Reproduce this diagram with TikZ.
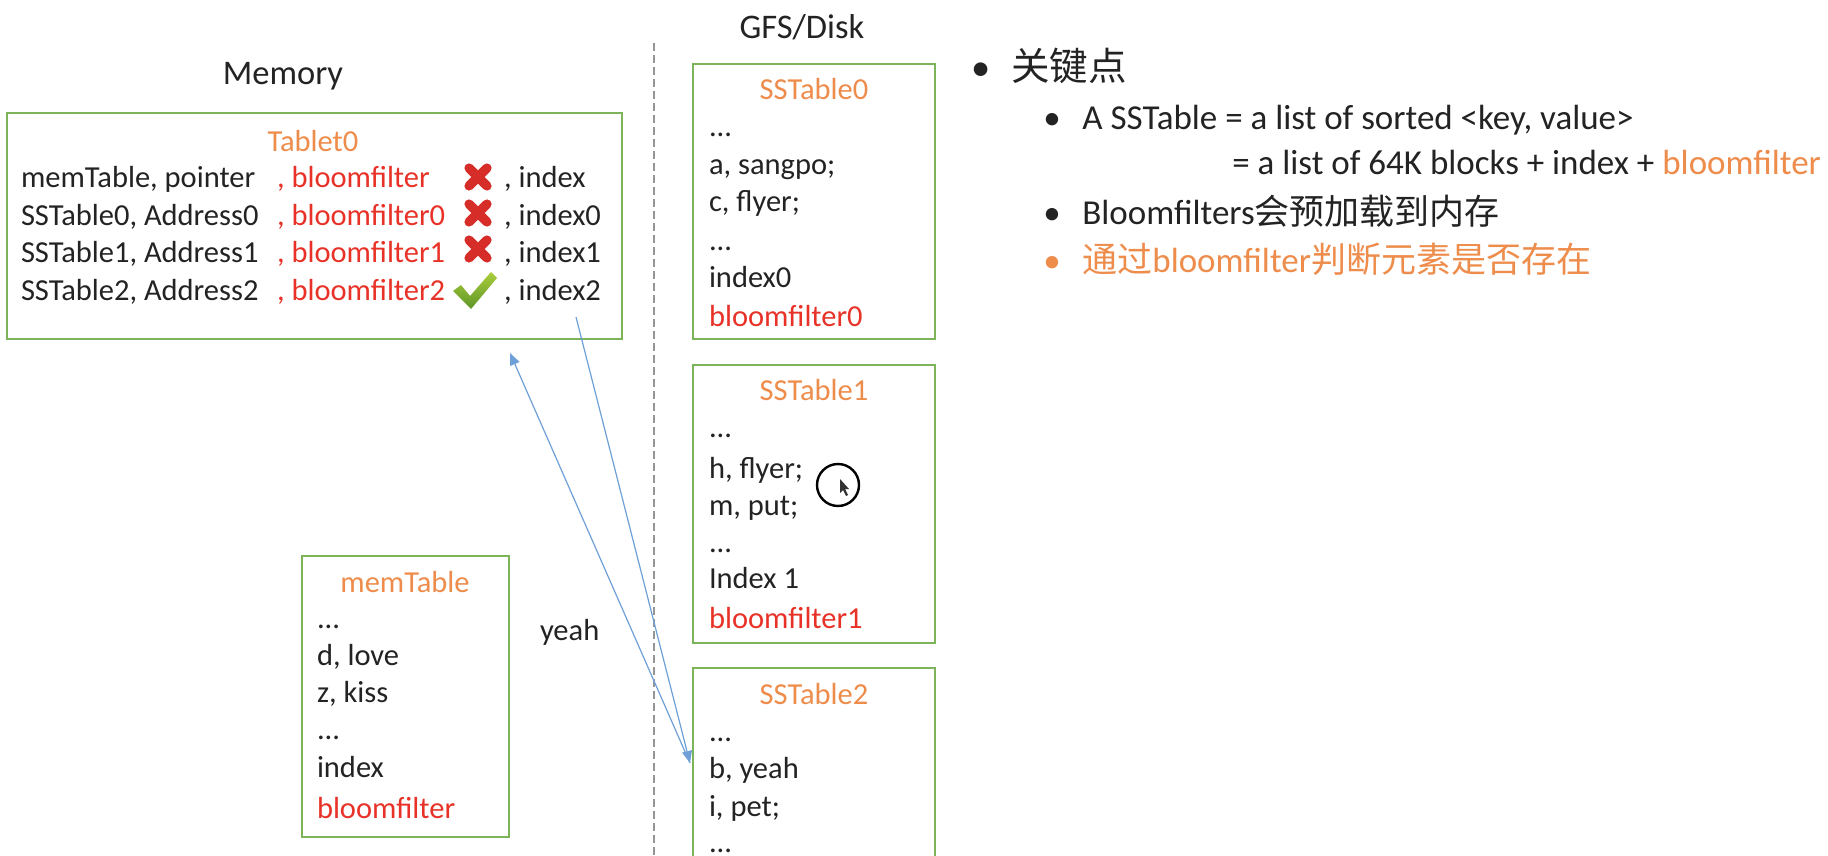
\documentclass[tikz,border=0pt]{standalone}
\usepackage{fontspec}
\setmainfont{Carlito}
\newfontfamily\cjk{Noto Sans CJK SC}
\usetikzlibrary{arrows.meta}
\definecolor{boxgreen}{RGB}{125,180,90}
\definecolor{ttlorange}{RGB}{238,140,75}
\definecolor{bfred}{RGB}{232,50,40}
\definecolor{txt}{RGB}{35,35,35}
\definecolor{arrblue}{RGB}{110,160,215}
\definecolor{dashgray}{RGB}{150,150,150}
\definecolor{xred}{RGB}{215,45,40}
\definecolor{ckgreentop}{RGB}{170,205,60}
\definecolor{ckgreenbot}{RGB}{95,150,40}
\tikzset{
  frame/.style={draw=boxgreen, line width=1pt, anchor=north west, inner sep=0pt, outer sep=0pt},
  lbl/.style={anchor=base west, inner sep=0pt, outer sep=0pt, text=txt, font=\fontsize{15.25pt}{18pt}\selectfont},
  ttl/.style={anchor=base, inner sep=0pt, outer sep=0pt, text=ttlorange, font=\fontsize{15.25pt}{18pt}\selectfont},
  bf/.style={lbl, text=bfred},
  head/.style={anchor=base, inner sep=0pt, text=txt, font=\fontsize{17.25pt}{20pt}\selectfont},
  bul/.style={anchor=base west, inner sep=0pt, text=txt, font=\fontsize{17.5pt}{21pt}\selectfont},
  bdot/.style={anchor=base, inner sep=0pt, text=txt, font=\fontsize{17.5pt}{21pt}\selectfont},
  arr/.style={draw=arrblue, line width=0.6pt, -{Triangle[length=6pt,width=5pt]}},
  xmark/.style={draw=xred, line width=4.6pt, line cap=round},
}
\begin{document}
\begin{tikzpicture}[x=0.5pt,y=-0.5pt]
\useasboundingbox (0,0) rectangle (1828,856);
\clip (0,0) rectangle (1828,856);
\fill[white] (0,0) rectangle (1828,856);

% headings
\node[head] (hmem) at (283,85) {Memory};
\node[head] (hgfs) at (802,39) {GFS/Disk};

% divider
\coordinate (dtop) at (654,43);
\coordinate (dbot) at (654,860);
\draw[dashgray, line width=1pt, dash pattern=on 4pt off 2pt] (dtop) -- (dbot);

% Tablet0 box
\node[frame, minimum width=307.5pt, minimum height=113pt] (tab) at (7,113) {};
\node[ttl] (tabt) at (313,152) {Tablet0};
\node[lbl] (r1a) at (21,188) {memTable, pointer};
\node[lbl] (r2a) at (21,225.5) {SSTable0, Address0};
\node[lbl] (r3a) at (21,263) {SSTable1, Address1};
\node[lbl] (r4a) at (21,300.5) {SSTable2, Address2};
\node[bf] (r1b) at (277,188) {, bloomfilter};
\node[bf] (r2b) at (277,225.5) {, bloomfilter0};
\node[bf] (r3b) at (277,263) {, bloomfilter1};
\node[bf] (r4b) at (277,300.5) {, bloomfilter2};
\node[lbl] (r1c) at (504,188) {, index};
\node[lbl] (r2c) at (504,225.5) {, index0};
\node[lbl] (r3c) at (504,263) {, index1};
\node[lbl] (r4c) at (504,300.5) {, index2};
% cross marks
\foreach \yy in {177,213,249} {
  \draw[xmark] (469,\yy-9) -- (487,\yy+9);
  \draw[xmark] (469,\yy+9) -- (487,\yy-9);
}
% check mark
\shade[top color=ckgreentop, bottom color=ckgreenbot] (453,291) -- (461,285) -- (470,296) -- (491,272) -- (497,278) -- (471,309) -- cycle;

% SSTable0
\node[frame, minimum width=121pt, minimum height=137.5pt] (ss0) at (693,64) {};
\node[ttl] (ss0t) at (814,100) {SSTable0};
\node[lbl] (ss0a) at (709,137) {...};
\node[lbl] (ss0b) at (709,175) {a, sangpo;};
\node[lbl] (ss0c) at (709,212) {c, flyer;};
\node[lbl] (ss0d) at (709,250) {...};
\node[lbl] (ss0e) at (709,287) {index0};
\node[bf] (ss0f) at (709,327) {bloomfilter0};

% SSTable1
\node[frame, minimum width=121pt, minimum height=139pt] (ss1) at (693,365) {};
\node[ttl] (ss1t) at (814,400) {SSTable1};
\node[lbl] (ss1a) at (709,437) {...};
\node[lbl] (ss1b) at (709,478) {h, flyer;};
\node[lbl] (ss1c) at (709,515) {m, put;};
\node[lbl] (ss1d) at (709,552) {...};
\node[lbl] (ss1e) at (709,588) {Index 1};
\node[bf] (ss1f) at (709,628) {bloomfilter1};

% cursor
\draw[black, line width=1.2pt] (838,485) circle (21);
\fill[black!80] (840,479) -- (840,493) -- (843,490) -- (846,496) -- (848,495) -- (845,489) -- (849,489) -- cycle;

% SSTable2
\node[frame, minimum width=121pt, minimum height=110pt] (ss2) at (693,668) {};
\node[ttl] (ss2t) at (814,704) {SSTable2};
\node[lbl] (ss2a) at (709,741) {...};
\node[lbl] (ss2b) at (709,778) {b, yeah};
\node[lbl] (ss2c) at (709,816) {i, pet;};
\node[lbl] (ss2d) at (709,852) {...};

% memTable
\node[frame, minimum width=103.5pt, minimum height=140.5pt] (mem) at (302,556) {};
\node[ttl] (memt) at (405,592) {memTable};
\node[lbl] (mema) at (317,628) {...};
\node[lbl] (memb) at (317,665) {d, love};
\node[lbl] (memc) at (317,702) {z, kiss};
\node[lbl] (memd) at (317,739) {...};
\node[lbl] (meme) at (317,777) {index};
\node[bf] (memf) at (317,818) {bloomfilter};

\node[lbl] (yeah) at (540,640) {yeah};

% arrows
\coordinate (pA) at (576,317);
\coordinate (pB) at (690,763);
\coordinate (pC) at (510,353);
\draw[arr] (pA) -- (pB);
\draw[arr] (pB) -- (pC);

% bullets
\node[anchor=base, inner sep=0pt, text=txt, font=\fontsize{19.25pt}{23pt}\selectfont] (b0) at (981,81) {•};
\node[anchor=base west, inner sep=0pt, text=txt, font=\fontsize{19.25pt}{23pt}\selectfont\cjk] (k0) at (1011,81) {关键点};
\node[bdot] (b1) at (1052,130) {•};
\node[bul] (k1) at (1082,130) {A SSTable = a list of sorted <key, value>};
\node[bul] (k1b) at (1232,175) {= a list of 64K blocks + index + \textcolor{ttlorange}{bloomfilter}};
\node[bdot] (b2) at (1052,225) {•};
\node[bul] (k2) at (1082,225) {Bloomfilters{\cjk 会预加载到内存}};
\node[bdot, text=ttlorange] (b3) at (1052,272) {•};
\node[bul, text=ttlorange] (k3) at (1082,272) {{\cjk 通过}bloomfilter{\cjk 判断元素是否存在}};
\end{tikzpicture}
\end{document}
